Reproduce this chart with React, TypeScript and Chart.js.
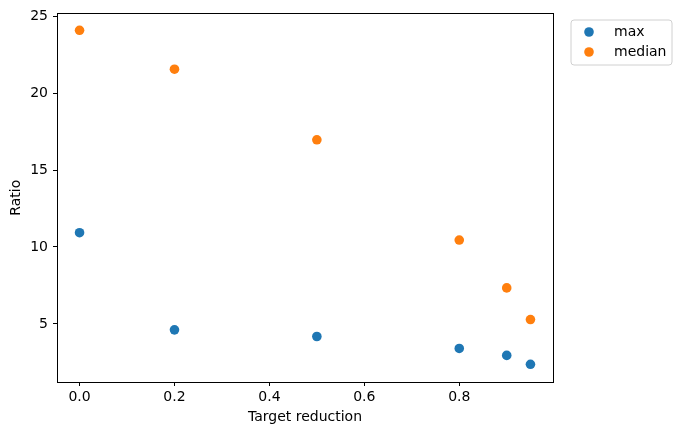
import React, { useEffect, useRef } from "react";
import { Chart, registerables } from "chart.js";

Chart.register(...registerables);

const targetReduction = [0.0, 0.2, 0.5, 0.8, 0.9, 0.95];
const maxRatio = [10.93, 4.61, 4.18, 3.4, 2.95, 2.37];
const medianRatio = [24.09, 21.56, 16.97, 10.45, 7.34, 5.28];
const xTicks = [0.0, 0.2, 0.4, 0.6, 0.8];
const yTicks = [5, 10, 15, 20, 25];
const seriesNames = ["max", "median"];
const colors = ["#1f77b4", "#ff7f0e"];

const FONT = "'DejaVu Sans', sans-serif";
const FS = 14;

const framePlugin = {
  id: "frame",
  afterDraw(chart: any) {
    const { ctx, chartArea } = chart;
    ctx.save();
    ctx.strokeStyle = "#000";
    ctx.lineWidth = 1;
    ctx.strokeRect(
      Math.round(chartArea.left) + 0.5,
      Math.round(chartArea.top) + 0.5,
      Math.round(chartArea.right - chartArea.left),
      Math.round(chartArea.bottom - chartArea.top)
    );
    // legend
    const lx = 571, ly = 20, lw = 101, lh = 45;
    ctx.fillStyle = "rgba(255,255,255,0.8)";
    ctx.strokeStyle = "#d0d0d0";
    ctx.beginPath();
    const r = 3;
    ctx.moveTo(lx + r, ly);
    ctx.arcTo(lx + lw, ly, lx + lw, ly + lh, r);
    ctx.arcTo(lx + lw, ly + lh, lx, ly + lh, r);
    ctx.arcTo(lx, ly + lh, lx, ly, r);
    ctx.arcTo(lx, ly, lx + lw, ly, r);
    ctx.closePath();
    ctx.fill();
    ctx.stroke();
    seriesNames.forEach((name, i) => {
      const cy = 32 + i * 20;
      ctx.fillStyle = colors[i];
      ctx.beginPath();
      ctx.arc(589, cy, 4.8, 0, Math.PI * 2);
      ctx.fill();
      ctx.fillStyle = "#000";
      ctx.font = `${FS}px ${FONT}`;
      ctx.textBaseline = "middle";
      ctx.textAlign = "left";
      ctx.fillText(name, 614, cy);
    });
    ctx.restore();
  },
};

export default function App() {
  const ref = useRef<HTMLCanvasElement | null>(null);
  useEffect(() => {
    document.body.style.margin = "0";
    const ctx = ref.current!.getContext("2d")!;
    const mk = (vals: number[]) => targetReduction.map((x, i) => ({ x, y: vals[i] }));
    const chart = new Chart(ctx, {
      type: "scatter",
      data: {
        datasets: [
          { label: seriesNames[0], data: mk(maxRatio), backgroundColor: colors[0], borderWidth: 0, pointRadius: 4.8, pointHoverRadius: 4.8 },
          { label: seriesNames[1], data: mk(medianRatio), backgroundColor: colors[1], borderWidth: 0, pointRadius: 4.8, pointHoverRadius: 4.8 },
        ],
      },
      options: {
        animation: false,
        responsive: false,
        layout: { padding: { left: 0, top: 13, right: 128, bottom: 0 } },
        plugins: { legend: { display: false }, tooltip: { enabled: false } },
        scales: {
          x: {
            type: "linear",
            min: -0.0475,
            max: 0.9975,
            afterBuildTicks: (s: any) => { s.ticks = xTicks.map((v) => ({ value: v })); },
            afterFit: (s: any) => { s.height = 53; },
            grid: { drawOnChartArea: false, drawTicks: true, tickLength: 4, tickColor: "#000" },
            border: { color: "#000" },
            ticks: { color: "#000", font: { family: FONT, size: FS }, padding: 3, maxRotation: 0, callback: (v: any) => Number(v).toFixed(1) },
            title: { display: true, text: "Target reduction", color: "#000", font: { family: FONT, size: FS }, padding: { top: 0, bottom: 9 } },
          },
          y: {
            type: "linear",
            min: 1.22,
            max: 25.19,
            afterBuildTicks: (s: any) => { s.ticks = yTicks.map((v) => ({ value: v })); },
            afterFit: (s: any) => { s.width = 57; },
            grid: { drawOnChartArea: false, drawTicks: true, tickLength: 4, tickColor: "#000" },
            border: { color: "#000" },
            ticks: { color: "#000", font: { family: FONT, size: FS }, padding: 5, callback: (v: any) => String(v) },
            title: { display: true, text: "Ratio", color: "#000", font: { family: FONT, size: FS }, padding: { top: 8, bottom: 0 } },
          },
        },
      },
      plugins: [framePlugin],
    });
    return () => chart.destroy();
  }, []);
  return (
    <div style={{ width: 681, height: 435, background: "#fff" }}>
      <canvas ref={ref} width={681} height={435} style={{ display: "block" }} />
    </div>
  );
}
